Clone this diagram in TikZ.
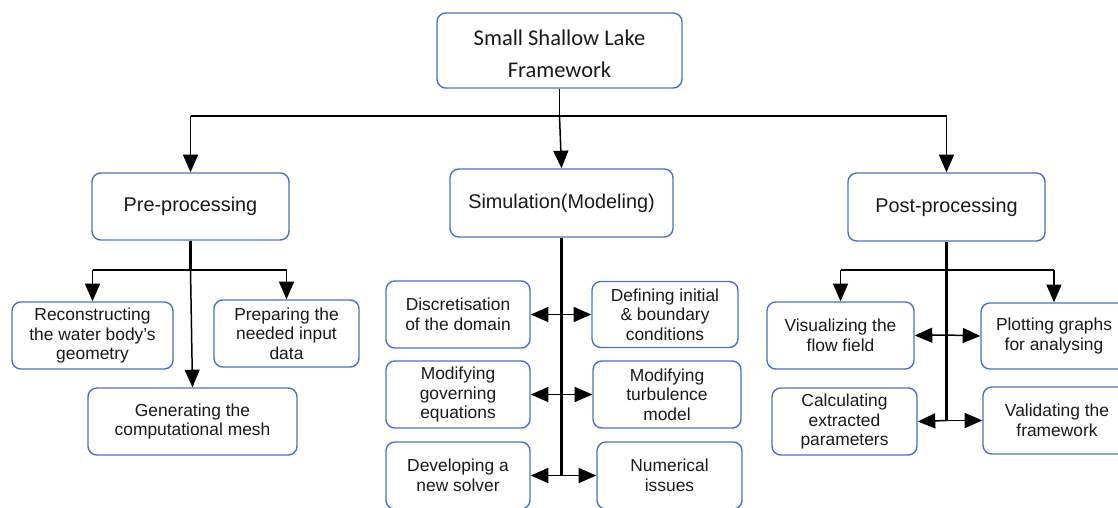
\documentclass[tikz,border=0pt]{standalone}
\usepackage{fontspec}
\setmainfont{Liberation Sans}
\newfontfamily\calfont{Carlito}
\usetikzlibrary{arrows.meta}
\definecolor{boxblue}{RGB}{74,114,186}
\tikzset{
  bx/.style={draw=boxblue, line width=0.8pt, rounded corners=5pt, align=center, inner sep=2pt,
    font=\fontsize{9.9}{11.2}\selectfont, text=black!90},
  bigbx/.style={bx, font=\fontsize{11.3}{13}\selectfont},
  conn/.style={line width=0.85pt, black},
  thick conn/.style={line width=1.4pt, black},
  arr/.style={conn, -{Triangle[length=10pt,width=8.5pt]}},
}
\begin{document}
\begin{tikzpicture}[x=0.02cm,y=-0.02cm]
\useasboundingbox (0,0) rectangle (1118,507);
% top
\node[bx, font=\calfont\fontsize{12.8}{18.2}\selectfont, minimum width=245*0.02cm, minimum height=75*0.02cm] (top) at (559.5,50.5) {\rule{0pt}{13pt}Small Shallow Lake\\Framework};
% level 1
\node[bigbx, minimum width=197*0.02cm, minimum height=67*0.02cm] (pre) at (190.5,206.5) {Pre-processing};
\node[bigbx, minimum width=223*0.02cm, minimum height=68*0.02cm] (sim) at (561.5,203) {Simulation(Modeling)};
\node[bigbx, minimum width=197*0.02cm, minimum height=68*0.02cm] (post) at (946.5,207) {Post-processing};
% pre children
\node[bx, minimum width=161*0.02cm, minimum height=67*0.02cm] (recon) at (92.5,335.5) {Reconstructing\\the water body's\\geometry};
\node[bx, minimum width=145*0.02cm, minimum height=67*0.02cm] (prep) at (286.5,333.5) {Preparing the\\needed input\\data};
\node[bx, minimum width=209*0.02cm, minimum height=67*0.02cm] (gen) at (192.5,421.5) {Generating the\\computational mesh};
% sim children
\node[bx, minimum width=144*0.02cm, minimum height=67*0.02cm] (disc) at (458,314.5) {Discretisation\\of the domain};
\node[bx, minimum width=146*0.02cm, minimum height=66*0.02cm] (def) at (665,314.5) {Defining initial\\\& boundary\\conditions};
\node[bx, minimum width=144*0.02cm, minimum height=67*0.02cm] (mgov) at (458,394.5) {Modifying\\governing\\equations};
\node[bx, minimum width=148*0.02cm, minimum height=67*0.02cm] (mturb) at (667,394.5) {Modifying\\turbulence\\model};
\node[bx, minimum width=144*0.02cm, minimum height=67*0.02cm] (dev) at (458,475.5) {Developing a\\new solver};
\node[bx, minimum width=145*0.02cm, minimum height=67*0.02cm] (num) at (669.5,475.5) {Numerical\\issues};
% post children
\node[bx, minimum width=147*0.02cm, minimum height=67*0.02cm] (vis) at (840.5,335.5) {Visualizing the\\flow field};
\node[bx, minimum width=146*0.02cm, minimum height=66*0.02cm] (plot) at (1054,336) {Plotting graphs\\for analysing};
\node[bx, minimum width=145*0.02cm, minimum height=67*0.02cm] (calc) at (844.5,421.5) {Calculating\\extracted\\parameters};
\node[bx, minimum width=148*0.02cm, minimum height=67*0.02cm] (valid) at (1057,420.5) {Validating the\\framework};
% top connectors
\coordinate (hub) at (559.5,116);
\draw[conn] (top.south) -- (hub);
\draw[conn] (pre.north |- hub) -- (post.north |- hub);
\draw[arr] (pre.north |- hub) -- (pre.north);
\draw[arr] (hub) -- (sim.north);
\draw[arr] (post.north |- hub) -- (post.north);
% pre connectors
\coordinate (phub) at (190.5,270);
\draw[thick conn] (pre.south) -- (phub);
\draw[arr] (phub) -- (gen.north);
\draw[conn] (recon.north |- phub) -- (prep.north |- phub);
\draw[arr] (recon.north |- phub) -- (recon.north);
\draw[arr] (prep.north |- phub) -- (prep.north);
% sim connectors
\coordinate (s1) at (sim.south |- disc.east);
\coordinate (s2) at (sim.south |- mgov.east);
\coordinate (s3) at (sim.south |- dev.east);
\draw[thick conn] (sim.south) -- (s3);
\draw[arr] (s1) -- (disc.east);
\draw[arr] (s1) -- (def.west);
\draw[arr] (s2) -- (mgov.east);
\draw[arr] (s2) -- (mturb.west);
\draw[arr] (s3) -- (dev.east);
\draw[arr] (s3) -- (num.west);
% post connectors
\coordinate (qhub) at (946.5,270);
\coordinate (q1) at (946.5,335);
\coordinate (q2) at (946.5,420.5);
\draw[thick conn] (post.south) -- (q2);
\draw[conn] (vis.north |- qhub) -- (plot.north |- qhub);
\draw[arr] (vis.north |- qhub) -- (vis.north);
\draw[arr] (plot.north |- qhub) -- (plot.north);
\draw[arr] (q1) -- (vis.east);
\draw[arr] (q1) -- (plot.west);
\draw[arr] (q2) -- (calc.east);
\draw[arr] (q2) -- (valid.west);
\end{tikzpicture}
\end{document}
